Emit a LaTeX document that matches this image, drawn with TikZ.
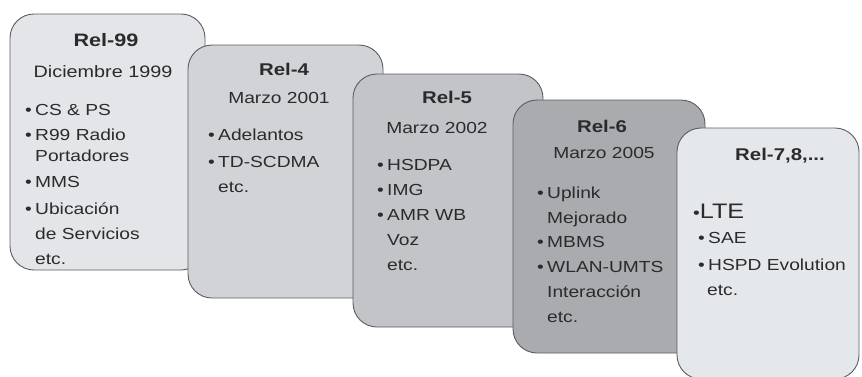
\documentclass[tikz,border=0pt]{standalone}
\usepackage{fontspec}
\setmainfont[FakeStretch=1.2]{Liberation Sans}
\definecolor{edge}{HTML}{5C5D60}
\definecolor{ink}{HTML}{2B2B2D}
\definecolor{fillA}{HTML}{E3E5E8}
\definecolor{fillB}{HTML}{D1D3D6}
\definecolor{fillC}{HTML}{C2C4C7}
\definecolor{fillD}{HTML}{A9ABAE}
\definecolor{fillE}{HTML}{E5E8EB}
% bullet followed by a small gap
\newcommand{\bl}{\textbullet\hspace{3.3pt}}
\begin{document}
\begin{tikzpicture}[x=1pt,y=-1pt,
  panel/.style={draw=edge, line width=0.9pt, rounded corners=24pt, inner sep=0pt},
  ttl/.style={font=\bfseries\fontsize{17}{20}\selectfont, anchor=base, text=ink, inner sep=0pt},
  dt/.style={font=\fontsize{16}{19}\selectfont, anchor=base, text=ink, inner sep=0pt},
  itm/.style={font=\fontsize{16}{19}\selectfont, anchor=base west, text=ink, inner sep=0pt}]
\useasboundingbox (0,0) rectangle (862,376);

% release panels, each overlapping the previous one
\node[panel, fill=fillA, minimum width=195pt, minimum height=256pt] (p1) at (107.5,142) {};
\node[panel, fill=fillB, minimum width=195pt, minimum height=253pt] (p2) at (285.5,171.5) {};
\node[panel, fill=fillC, minimum width=190pt, minimum height=253pt] (p3) at (448,200.5) {};
\node[panel, fill=fillD, minimum width=192pt, minimum height=253pt] (p4) at (609,226.5) {};
\node[panel, fill=fillE, minimum width=182pt, minimum height=251pt] (p5) at (768,253.5) {};

% Rel-99
\node[ttl, font=\bfseries\fontsize{18}{20}\selectfont] (t1) at (106,46.5) {Rel-99};
\node[dt, font=\fontsize{16.5}{19}\selectfont] (d1) at (103,77) {Diciembre 1999};
\node[itm] (a1) at (25,115) {\bl CS \& PS};
\node[itm] (a2) at (25,140) {\bl R99 Radio};
\node[itm] (a3) at (35,161) {Portadores};
\node[itm] (a4) at (25,187) {\bl MMS};
\node[itm] (a5) at (25,214) {\bl Ubicación};
\node[itm] (a6) at (35,239) {de Servicios};
\node[itm] (a7) at (35,264) {etc.};

% Rel-4
\node[ttl] (t2) at (284,75) {Rel-4};
\node[dt] (d2) at (279,103) {Marzo 2001};
\node[itm] (b1) at (208,140) {\bl Adelantos};
\node[itm] (b2) at (208,167) {\bl TD-SCDMA};
\node[itm] (b3) at (218,192) {etc.};

% Rel-5
\node[ttl] (t3) at (447,103) {Rel-5};
\node[dt] (d3) at (437,133) {Marzo 2002};
\node[itm] (c1) at (377,170) {\bl HSDPA};
\node[itm] (c2) at (377,195) {\bl IMG};
\node[itm] (c3) at (377,220) {\bl AMR WB};
\node[itm] (c4) at (387,245) {Voz};
\node[itm] (c5) at (387,270) {etc.};

% Rel-6
\node[ttl] (t4) at (602,132) {Rel-6};
\node[dt] (d4) at (604,158) {Marzo 2005};
\node[itm] (e1) at (537,198) {\bl Uplink};
\node[itm] (e2) at (547,223) {Mejorado};
\node[itm] (e3) at (537,247) {\bl MBMS};
\node[itm] (e4) at (537,272) {\bl WLAN-UMTS};
\node[itm] (e5) at (547,297) {Interacción};
\node[itm] (e6) at (547,322) {etc.};

% Rel-7,8,...
\node[ttl] (t5) at (780,160) {Rel-7,8,...};
\node[itm] (f1) at (693,218) {\textbullet{\fontsize{21}{24}\selectfont LTE}};
\node[itm] (f2) at (698,243) {\bl SAE};
\node[itm] (f3) at (698,270) {\bl HSPD Evolution};
\node[itm] (f4) at (707,295) {etc.};
\end{tikzpicture}
\end{document}
